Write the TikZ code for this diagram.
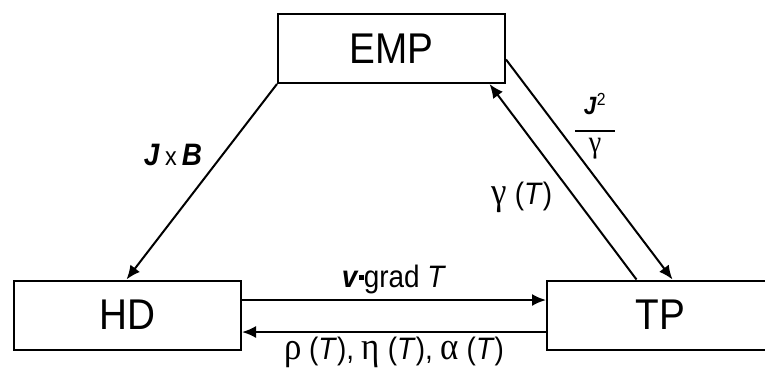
\documentclass[tikz,border=0pt]{standalone}
\usepackage{fontspec}
\setmainfont[FakeStretch=0.9]{Liberation Sans}
\newfontfamily\greekfont[Scale=1.25, FakeStretch=0.9]{Liberation Serif}
\usetikzlibrary{arrows.meta}

% bold italic vector symbols
\newcommand{\vect}[1]{\textbf{\textit{#1}}}

\begin{document}
\begin{tikzpicture}[x=1pt, y=-1pt, line width=2pt,
	block/.style={draw, minimum width=227pt, minimum height=69pt, inner sep=0pt, font=\fontsize{43}{48}\selectfont},
	flow/.style={-{Latex[length=14pt, width=12pt]}},
	lbl/.style={font=\fontsize{31}{35}\selectfont, inner sep=3pt}]
	\useasboundingbox (0, 0) rectangle (765, 376);
	% the three blocks
	\node[block] (emp) at (391.5, 48.5) {EMP};
	\node[block] (hd) at (127.5, 315) {HD};
	\node[block] (tp) at (660.5, 315) {TP};
	% couplings between them
	\draw[flow] (emp.south west) -- ([xshift=-1pt]hd.north);
	\draw[flow] ([yshift=-11pt]emp.east) -- ([xshift=12pt]tp.north);
	\draw[flow] ([xshift=-24pt]tp.north) -- ([xshift=98pt]emp.south);
	\draw[flow] ([yshift=15pt]hd.east) -- node[lbl, above, inner sep=5pt] {\vect{v}\raisebox{8pt}{\rule{5pt}{5pt}}grad \textit{T}} ([yshift=15pt]tp.west);
	\draw[flow] ([yshift=-17pt]tp.west) -- node[lbl, below, inner sep=4pt] {{\greekfont ρ} (\textit{T}), {\greekfont η} (\textit{T}), {\greekfont α} (\textit{T})} ([yshift=-17pt]hd.east);
	% labels on the slanted arrows
	\node[lbl] (jxb) at (173, 155) {\vect{J}\,{\fontsize{26}{30}\selectfont x}\,\vect{B}};
	\node[lbl] (gam) at (522, 197) {{\greekfont γ} (\textit{T})};
	\node[align=center, inner sep=0pt, font=\fontsize{25}{27}\selectfont] (joule) at (595, 126)
		{\vect{J}\textsuperscript{2}\\[-9pt]\rule{40pt}{2pt}\\[-7pt]{\greekfont γ}};
\end{tikzpicture}
\end{document}
